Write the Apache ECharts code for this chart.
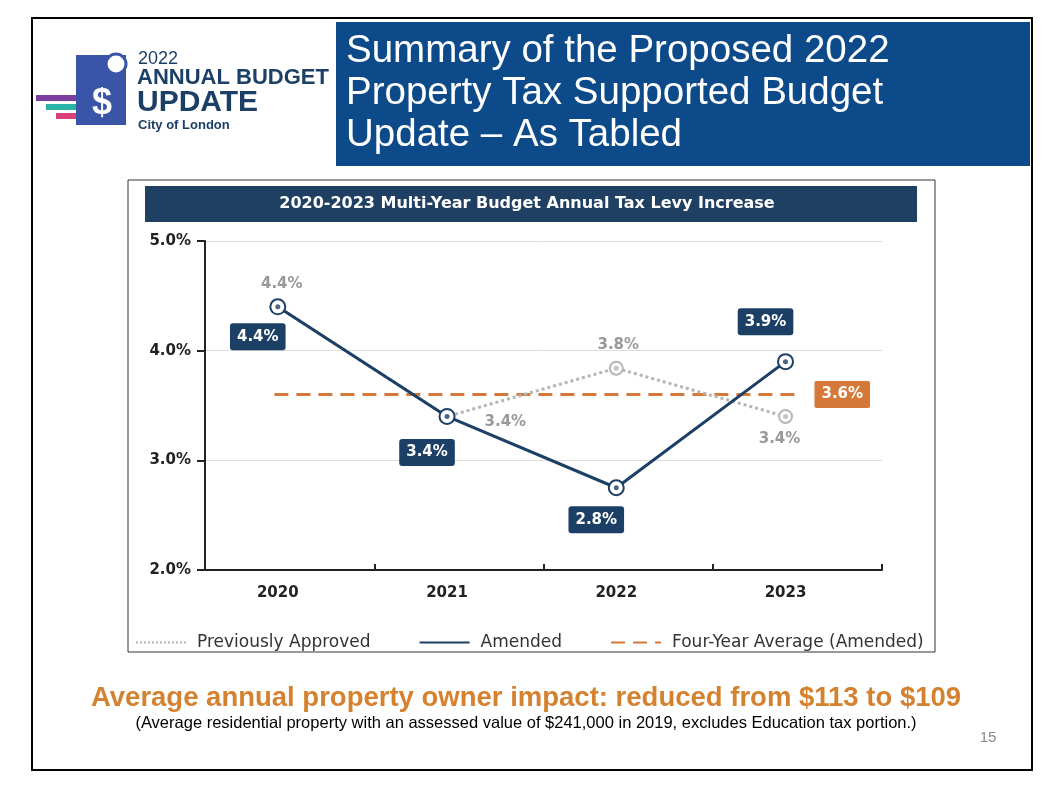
<!DOCTYPE html>
<html><head><meta charset="utf-8">
<script src="https://cdn.jsdelivr.net/npm/echarts@6/dist/echarts.min.js"></script>
<style>html,body{margin:0;padding:0;background:#fff}#c{width:1064px;height:792px}</style>
</head><body><div id="c"></div>
<script>
const years = ['2020','2021','2022','2023'];
const previouslyApproved = [4.4, 3.4, 3.84, 3.4];
const amended = [4.4, 3.4, 2.75, 3.9];
const fourYearAverage = 3.6;
const yTicks = [2, 3, 4, 5];

const navy = '#1c3f66', gray = '#b5b5b5', orange = '#d4793a';
const F = 'DejaVu Sans';
const chart = echarts.init(document.getElementById('c'));
const pts = a => a.map((v, i) => [i, v]);
const ampos = ['bottom', 'bottom', 'bottom', 'top'];
const amoff = [[-20, -6], [-20, 0], [-20, -4], [-20, -4]];
const gpos = ['top', 'right', 'top', 'bottom'];
const goff = [[4, 0], [22, 6], [2, 0], [-6, 0]];
chart.setOption({
  animation: false,
  graphic: [
    {type: 'rect', shape: {x: 32, y: 18, width: 1000, height: 752}, style: {fill: 'none', stroke: '#000', lineWidth: 2}},
    {type: 'rect', shape: {x: 336, y: 22, width: 694, height: 144}, style: {fill: '#0d4a89'}},
    {type: 'text', left: 346, top: 30, style: {text: 'Summary of the Proposed 2022\nProperty Tax Supported Budget\nUpdate – As Tabled', fill: '#fff', font: '38.5px "Liberation Sans"', lineHeight: 42}},
    {type: 'rect', shape: {x: 36, y: 95, width: 70, height: 6}, style: {fill: '#7c3fa0'}},
    {type: 'rect', shape: {x: 46, y: 104, width: 60, height: 6}, style: {fill: '#2ab3a6'}},
    {type: 'rect', shape: {x: 56, y: 113, width: 50, height: 6}, style: {fill: '#d8417a'}},
    {type: 'rect', shape: {x: 76, y: 55, width: 50, height: 70}, style: {fill: '#3a55a8'}},
    {type: 'text', left: 92, top: 86, style: {text: '$', fill: '#fff', font: 'bold 36px "Liberation Sans"'}},
    {type: 'circle', shape: {cx: 116, cy: 64, r: 10}, style: {fill: '#fff', stroke: '#3a55a8', lineWidth: 3}},
    {type: 'text', left: 138, top: 50, style: {text: '2022', fill: '#1c3f66', font: '18px "Liberation Sans"'}},
    {type: 'text', left: 137, top: 67, style: {text: 'ANNUAL BUDGET', fill: '#1c3f66', font: 'bold 22px "Liberation Sans"'}},
    {type: 'text', left: 137, top: 88, style: {text: 'UPDATE', fill: '#1c3f66', font: 'bold 30px "Liberation Sans"'}},
    {type: 'text', left: 138, top: 119, style: {text: 'City of London', fill: '#1c3f66', font: 'bold 13px "Liberation Sans"'}},
    {type: 'rect', shape: {x: 128, y: 180, width: 807, height: 472}, style: {fill: 'none', stroke: '#333', lineWidth: 1}},
    {type: 'rect', shape: {x: 145, y: 186, width: 772, height: 36}, style: {fill: '#1f3f63'}},
    {type: 'text', x: 527, y: 204, style: {text: '2020-2023 Multi-Year Budget Annual Tax Levy Increase', fill: '#fff', font: 'bold 16px "DejaVu Sans"', align: 'center', verticalAlign: 'middle'}},
    {type: 'text', x: 526, y: 698, style: {text: 'Average annual property owner impact: reduced from $113 to $109', fill: '#d4822f', font: 'bold 27.5px "Liberation Sans"', align: 'center', verticalAlign: 'middle'}},
    {type: 'text', x: 526, y: 723, style: {text: '(Average residential property with an assessed value of $241,000 in 2019, excludes Education tax portion.)', fill: '#000', font: '16.5px "Liberation Sans"', align: 'center', verticalAlign: 'middle'}},
    {type: 'text', x: 988, y: 738, style: {text: '15', fill: '#888', font: '15px "Liberation Sans"', align: 'center', verticalAlign: 'middle'}}
  ],
  legend: {
    top: 629, left: 130, itemGap: 48, itemWidth: 50, itemHeight: 10,
    itemStyle: {opacity: 0},
    textStyle: {fontFamily: 'DejaVu Sans', fontSize: 17, color: '#333', padding: [0, 0, 0, 6]},
    data: ['Previously Approved', 'Amended', 'Four-Year Average (Amended)']
  },
  grid: {left: 205, top: 241, width: 677, bottom: 222},
  xAxis: {
    type: 'value', min: -0.43, max: 3.57,
    axisLine: {show: true, onZero: false, lineStyle: {color: '#222', width: 2}},
    axisTick: {show: true, customValues: [0.57, 1.57, 2.57, 3.57], length: 6, inside: true, lineStyle: {color: '#222', width: 2}},
    axisLabel: {customValues: [0, 1, 2, 3], formatter: v => years[Math.round(v)], fontFamily: F, fontWeight: 'bold', fontSize: 15, color: '#222', margin: 16},
    splitLine: {show: false}
  },
  yAxis: {
    type: 'value', min: yTicks[0], max: yTicks[yTicks.length - 1], interval: 1,
    axisLine: {show: true, onZero: false, lineStyle: {color: '#222', width: 2}},
    axisTick: {show: true, length: 8, lineStyle: {color: '#222', width: 2}},
    axisLabel: {formatter: v => v.toFixed(1) + '%', fontFamily: F, fontWeight: 'bold', fontSize: 15, color: '#222', margin: 14},
    splitLine: {lineStyle: {color: '#ddd'}}
  },
  series: [
    {
      name: 'Four-Year Average (Amended)', type: 'line', symbol: 'none',
      data: [[-0.02, fourYearAverage], [3.1, fourYearAverage]],
      lineStyle: {color: orange, type: [14, 8], width: 3}, itemStyle: {color: orange},
      endLabel: {show: true, formatter: fourYearAverage.toFixed(1) + '%', backgroundColor: orange, color: '#fff', fontFamily: F, fontWeight: 'bold', fontSize: 15, padding: [6, 7], borderRadius: 2, distance: 12},
      z: 1
    },
    {
      name: 'Previously Approved', type: 'line',
      data: pts(previouslyApproved).map((d, i) => ({value: d, label: {position: gpos[i]}})),
      symbol: 'emptyCircle', symbolSize: 13,
      lineStyle: {color: gray, type: 'dotted', width: 3}, itemStyle: {color: gray, borderWidth: 3},
      label: {show: true, formatter: p => p.value[1].toFixed(1) + '%', color: '#999', fontFamily: F, fontWeight: 'bold', fontSize: 15, distance: 8},
      labelLayout: p => ({dx: goff[p.dataIndex][0], dy: goff[p.dataIndex][1]}),
      z: 2
    },
    {
      name: 'Amended', type: 'line',
      data: pts(amended).map((d, i) => ({value: d, label: {position: ampos[i]}})),
      symbol: 'emptyCircle', symbolSize: 15,
      lineStyle: {color: navy, width: 3}, itemStyle: {color: navy, borderWidth: 3},
      label: {show: true, formatter: p => p.value[1].toFixed(1) + '%', backgroundColor: navy, color: '#fff', fontFamily: F, fontWeight: 'bold', fontSize: 15, padding: [6, 7], borderRadius: 3, distance: 14},
      labelLayout: p => ({dx: amoff[p.dataIndex][0], dy: amoff[p.dataIndex][1]}),
      z: 3
    },
    {type: 'scatter', data: pts(amended), symbolSize: 5, itemStyle: {color: navy}, z: 4, silent: true},
    {type: 'scatter', data: pts(previouslyApproved).slice(2), symbolSize: 5, itemStyle: {color: gray}, z: 2, silent: true}
  ]
});
</script></body></html>
